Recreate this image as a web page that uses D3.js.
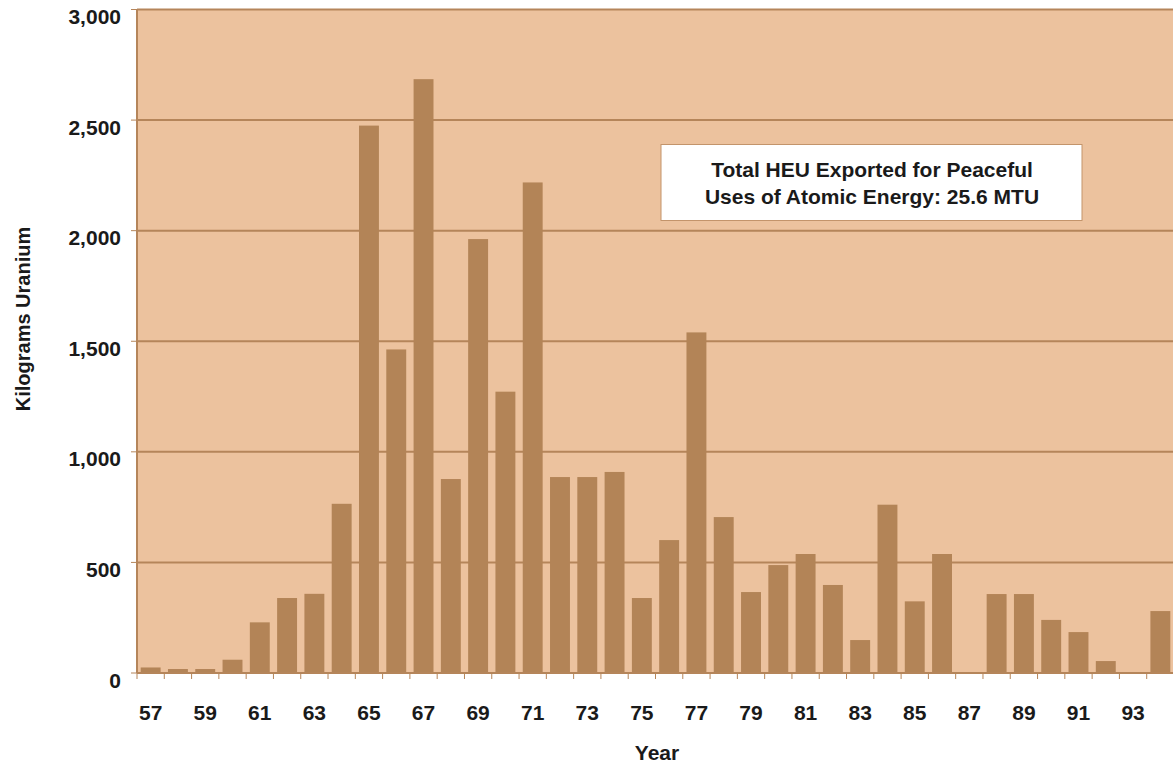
<!DOCTYPE html>
<html>
<head>
<meta charset="utf-8">
<script src="https://cdn.jsdelivr.net/npm/d3@7"></script>
<style>
  html, body { margin: 0; padding: 0; background: #fff; }
  svg { display: block; font-family: "Liberation Sans", Arial, sans-serif; }
</style>
</head>
<body>
<svg id="chart" width="1173" height="768"></svg>
<script>
// HEU exports by year (kg uranium)
const years = ["57","58","59","60","61","62","63","64","65","66","67","68","69","70","71","72","73","74","75",
               "76","77","78","79","80","81","82","83","84","85","86","87","88","89","90","91","92","93","94"];
const kilograms = [25, 18, 18, 60, 229, 339, 358, 765, 2475, 1463, 2685, 877, 1962, 1272, 2218, 886, 886, 909, 339,
                   601, 1540, 705, 366, 488, 538, 398, 149, 761, 324, 538, 0, 357, 357, 240, 185, 54, 0, 280];
const yTicks = [0, 500, 1000, 1500, 2000, 2500, 3000];
const xLabelYears = ["57","59","61","63","65","67","69","71","73","75","77","79","81","83","85","87","89","91","93"];
const noteLines = ["Total HEU Exported for Peaceful", "Uses of Atomic Energy: 25.6 MTU"];

const svg = d3.select("#chart");
const plot = { left: 137, right: 1174, top: 9.5, bottom: 673 };
const fontSize = 21;
const ink = "#1a1a1a";

const x = d3.scaleBand().domain(years).range([plot.left, plot.right]).paddingInner(0.27).paddingOuter(0.135);
const xb = d3.scaleBand().domain(years).range([plot.left, plot.right]);
const y = d3.scaleLinear().domain([0, 3000]).range([plot.bottom, plot.top]);

const brown = "#b5855a";

// plot background
svg.append("rect")
  .attr("x", plot.left).attr("y", plot.top)
  .attr("width", plot.right - plot.left).attr("height", plot.bottom - plot.top)
  .attr("fill", "#ecc29e");

// gridlines
svg.append("g").selectAll("line").data(yTicks.slice(1))
  .join("line")
  .attr("x1", plot.left).attr("x2", plot.right)
  .attr("y1", d => y(d)).attr("y2", d => y(d))
  .attr("stroke", brown).attr("stroke-width", 2);

// bars
svg.append("g").selectAll("rect").data(years.map((yr, i) => ({ yr, v: kilograms[i] })))
  .join("rect")
  .attr("x", d => x(d.yr))
  .attr("width", x.bandwidth())
  .attr("y", d => y(d.v))
  .attr("height", d => plot.bottom - y(d.v))
  .attr("fill", "#b38457");

// left axis line and ticks
svg.append("line")
  .attr("x1", plot.left).attr("x2", plot.left)
  .attr("y1", plot.top).attr("y2", plot.bottom)
  .attr("stroke", brown).attr("stroke-width", 2);

const yAxis = svg.append("g");
yAxis.selectAll("line").data(yTicks).join("line")
  .attr("x1", plot.left - 6).attr("x2", plot.left)
  .attr("y1", d => y(d)).attr("y2", d => y(d))
  .attr("stroke", brown).attr("stroke-width", 1);
yAxis.selectAll("text").data(yTicks).join("text")
  .attr("x", 121).attr("y", d => y(d) + 14.5)
  .attr("text-anchor", "end")
  .attr("font-size", fontSize).attr("font-weight", "bold").attr("fill", ink)
  .text(d => d3.format(",")(d));

// bottom axis line and ticks between bands
svg.append("line")
  .attr("x1", plot.left).attr("x2", plot.right)
  .attr("y1", plot.bottom).attr("y2", plot.bottom)
  .attr("stroke", brown).attr("stroke-width", 2);

const xAxis = svg.append("g");
xAxis.selectAll("line").data(years).join("line")
  .attr("x1", d => xb(d)).attr("x2", d => xb(d))
  .attr("y1", plot.bottom).attr("y2", plot.bottom + 6)
  .attr("stroke", brown).attr("stroke-width", 1);
xAxis.selectAll("text").data(xLabelYears).join("text")
  .attr("x", d => xb(d) + xb.bandwidth() / 2)
  .attr("y", 720)
  .attr("text-anchor", "middle")
  .attr("font-size", fontSize).attr("font-weight", "bold").attr("fill", ink)
  .text(d => d);

// axis titles
svg.append("text")
  .attr("x", 657).attr("y", 760)
  .attr("text-anchor", "middle")
  .attr("font-size", fontSize).attr("font-weight", "bold").attr("fill", ink)
  .text("Year");

svg.append("text")
  .attr("transform", "translate(30,319) rotate(-90)")
  .attr("text-anchor", "middle")
  .attr("font-size", 20).attr("font-weight", "bold").attr("fill", ink)
  .text("Kilograms Uranium");

// note box
const note = svg.append("g");
note.append("rect")
  .attr("x", 661).attr("y", 144.5)
  .attr("width", 421).attr("height", 76)
  .attr("fill", "#fff").attr("stroke", "#c3946b").attr("stroke-width", 1);
note.selectAll("text").data(noteLines).join("text")
  .attr("x", 872).attr("y", (d, i) => 177 + i * 27)
  .attr("text-anchor", "middle")
  .attr("font-size", fontSize).attr("font-weight", "bold").attr("fill", ink)
  .text(d => d);
</script>
</body>
</html>
